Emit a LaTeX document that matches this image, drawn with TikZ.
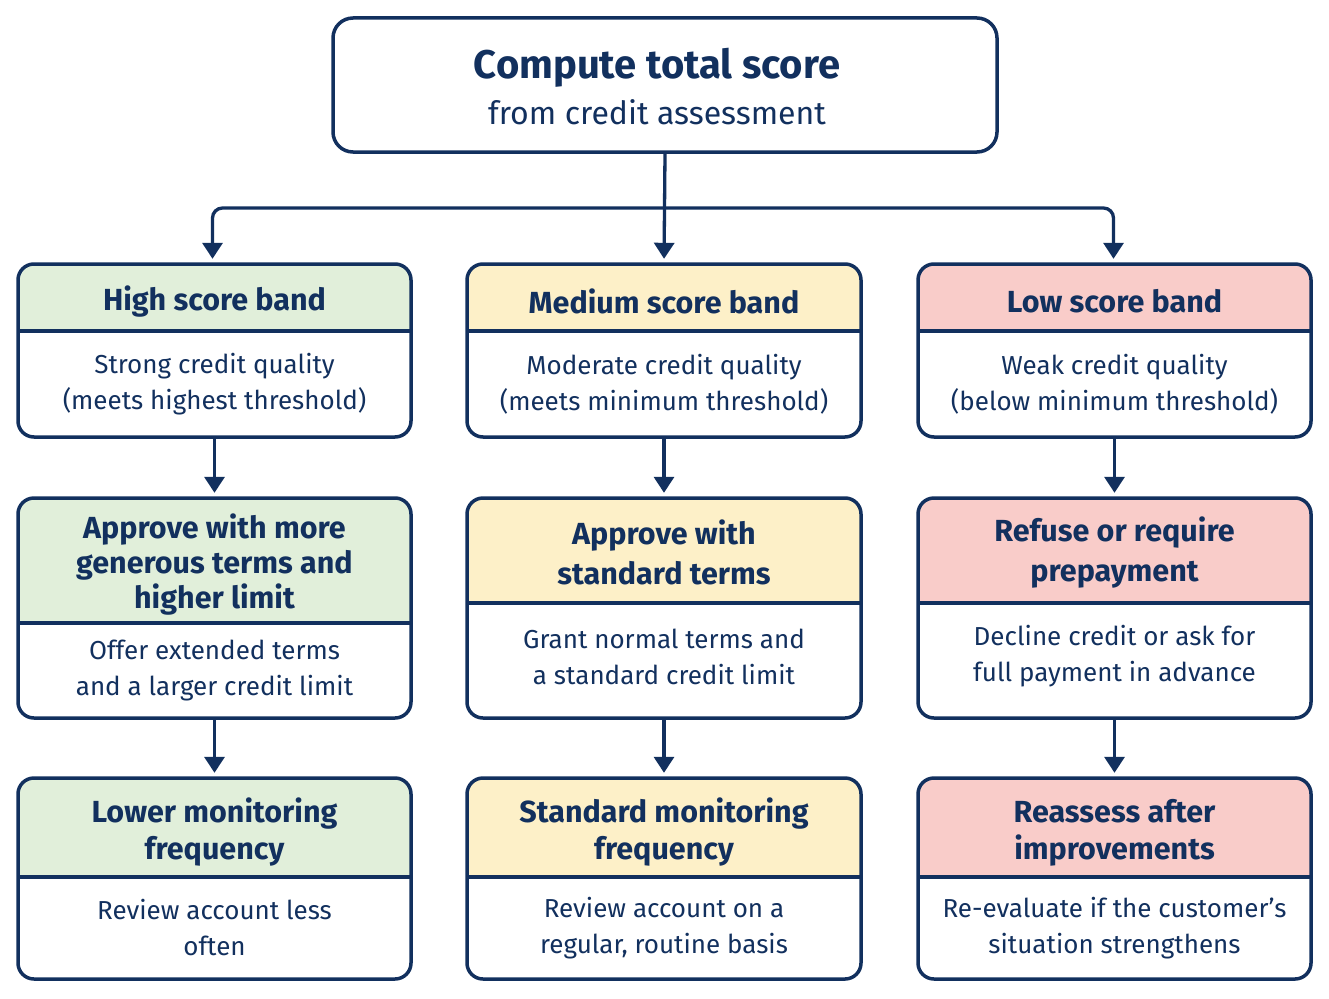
\documentclass[tikz,border=0pt]{standalone}
\usepackage{fontspec}
\setmainfont{Fira Sans}
\usetikzlibrary{arrows.meta,calc}
\definecolor{navy}{HTML}{12305E}
\definecolor{hgreen}{HTML}{E1EFDA}
\definecolor{hyellow}{HTML}{FDF0C8}
\definecolor{hpink}{HTML}{F9CCC9}
\tikzset{
  hdrtext/.style={align=center, text=navy, inner sep=0pt, font=\bfseries\fontsize{30.5}{37}\selectfont},
  bdytext/.style={align=center, text=navy, inner sep=0pt, font=\fontsize{26}{36}\selectfont},
  outline/.style={draw=navy, line width=3.5pt},
  conn/.style={draw=navy, line width=3.3pt, -{Triangle[width=20pt,length=16pt]}, shorten >=5pt},
}
\def\bshift{0}
\def\hshift{4}
\newcommand\mycard[9]{%
  \node[inner sep=0pt, minimum width={#4pt-#2pt}, minimum height={#5pt-#3pt}] (#1) at ({(#2+#4)/2},{(#3+#5)/2}) {};
  \begin{scope}
    \clip[rounded corners=16pt] (#2,#3) rectangle (#4,#5);
    \fill[white] (#2,#3) rectangle (#4,#5);
    \fill[#7] (#2,#3) rectangle (#4,#6);
  \end{scope}
  \draw[outline] (#2,#6) -- (#4,#6);
  \draw[outline, rounded corners=16pt] (#2,#3) rectangle (#4,#5);
  \node[hdrtext] (#1-h) at ({(#2+#4)/2},{(#3+#6)/2+\hshift}) {#8};
  \node[bdytext] (#1-b) at ({(#2+#4)/2},{(#6+#5)/2+\bshift}) {#9};
}
\begin{document}
\begin{tikzpicture}[x=1pt,y=-1pt]
\useasboundingbox[fill=white] (0,0) rectangle (1329,998);
% top box
\node[outline, rounded corners=20pt, fill=white, minimum width=664pt, minimum height=134pt, inner sep=0pt] (top) at (665,85) {};
\node[text=navy, font=\bfseries\fontsize{40}{44}\selectfont, inner sep=0pt] (title) at (657,68) {Compute total score};
\node[text=navy, font=\fontsize{32}{36}\selectfont, inner sep=0pt] (sub) at (657,112) {from credit assessment};
% row 1
\mycard{h1}{18}{264}{411}{437}{331}{hgreen}{High score band}{Strong credit quality\\(meets highest threshold)}
\mycard{m1}{467}{264}{861}{437}{331}{hyellow}{Medium score band}{Moderate credit quality\\(meets minimum threshold)}
\mycard{l1}{918}{264}{1311}{437}{331}{hpink}{Low score band}{Weak credit quality\\(below minimum threshold)}
% row 2
\mycard{h2}{18}{498}{411}{718}{623}{hgreen}{Approve with more\\[-2pt]generous terms and\\[-2pt]higher limit}{Offer extended terms\\and a larger credit limit}
\def\bshift{-4}\def\hshift{2}
\mycard{m2}{467}{498}{861}{718}{603}{hyellow}{Approve with\\[3pt]standard terms}{Grant normal terms and\\a standard credit limit}
\mycard{l2}{918}{498}{1311}{718}{603}{hpink}{Refuse or require\\[3pt]prepayment}{Decline credit or ask for\\full payment in advance}
\def\bshift{0}\def\hshift{5}
% row 3
\mycard{h3}{18}{778}{411}{979}{877}{hgreen}{Lower monitoring\\frequency}{Review account less\\often}
\mycard{m3}{467}{778}{861}{979}{877}{hyellow}{Standard monitoring\\frequency}{Review account on a\\regular, routine basis}
\mycard{l3}{918}{778}{1311}{979}{877}{hpink}{Reassess after\\improvements}{Re-evaluate if the customer’s\\situation strengthens}
% connectors
\coordinate (j) at (665,208);
\draw[conn] (top.south) -- (m1.north);
\draw[conn, rounded corners=10pt] (j) -| ($(h1.north)+(-2,0)$);
\draw[conn, rounded corners=10pt] (j) -| ($(l1.north)+(-1,0)$);
\foreach \a/\b in {h1/h2,m1/m2,l1/l2,h2/h3,m2/m3,l2/l3}{
  \draw[conn] (\a.south) -- (\b.north);
}
\end{tikzpicture}
\end{document}
